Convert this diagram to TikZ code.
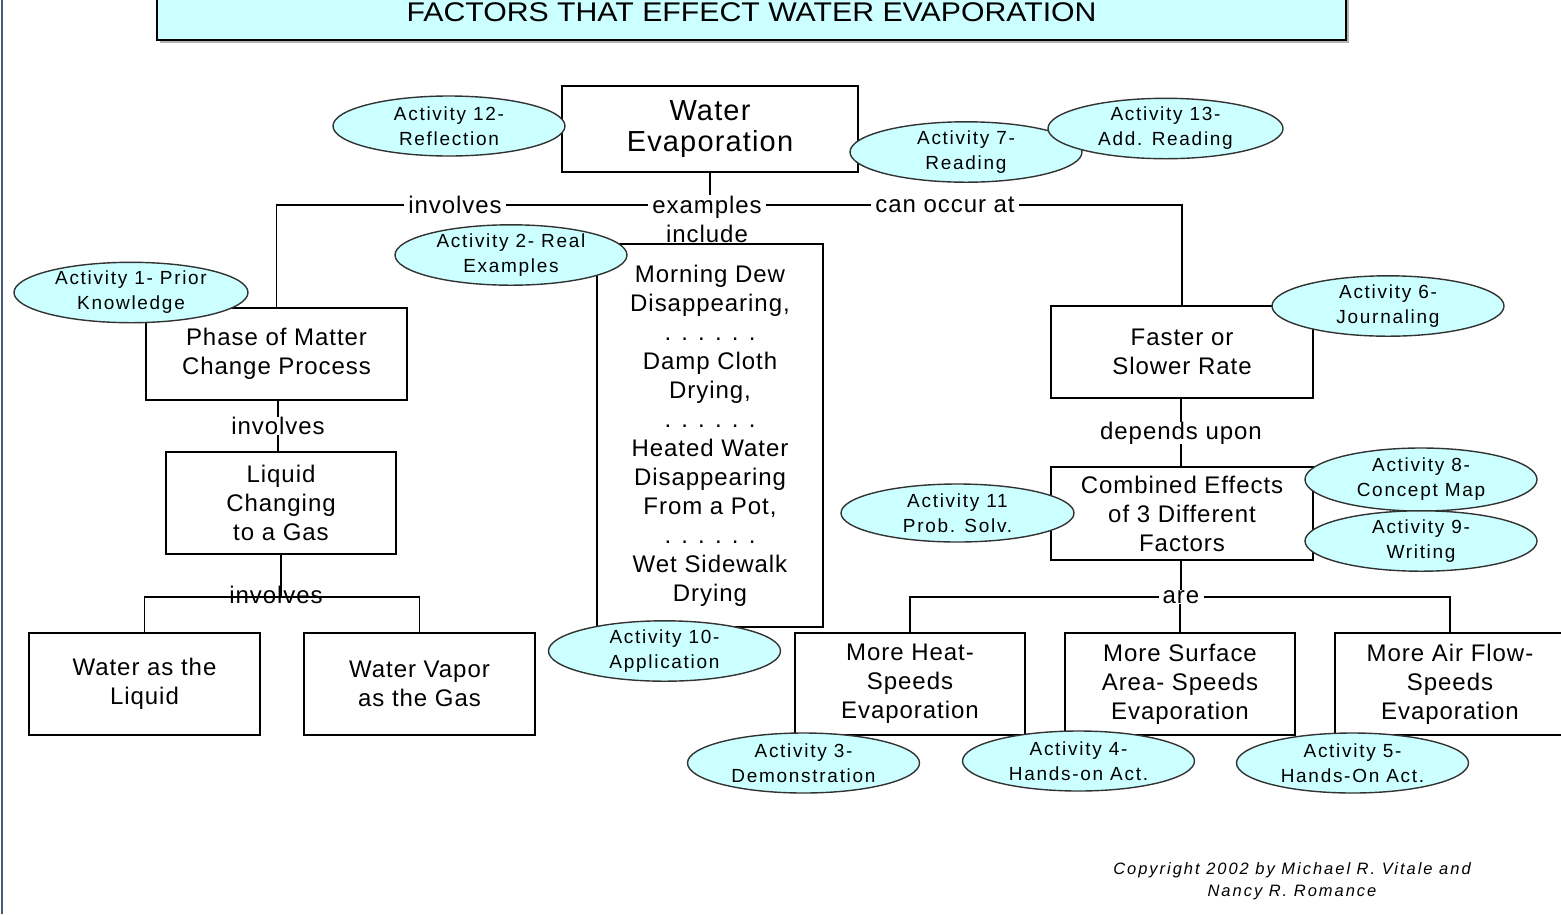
\documentclass[tikz,border=0pt]{standalone}
\usepackage{fontspec}
\setmainfont{Liberation Sans}
\newfontfamily\bxf[LetterSpace=4]{Liberation Sans}
\newfontfamily\acf[LetterSpace=9]{Liberation Sans}
\newfontfamily\cpf[LetterSpace=12]{Liberation Sans}
\newfontfamily\ttlf[FakeStretch=1.12]{Liberation Sans}
\usetikzlibrary{shapes.geometric}
\definecolor{actfill}{HTML}{CCFFFF}
\definecolor{edgeblue}{HTML}{4A5878}
\begin{document}
\begin{tikzpicture}[x=1pt,y=-1pt,
 concept/.style={draw=black, line width=1.5pt, fill=white, align=center, inner sep=0pt, font=\bxf\fontsize{24}{29}\selectfont},
 act/.style={ellipse, draw=black!80, line width=1.4pt, fill=actfill, minimum width=232pt, minimum height=60pt, inner sep=0pt, align=center, font=\acf\fontsize{19}{25}\selectfont},
 lbl/.style={fill=white, inner xsep=4pt, inner ysep=0pt, align=center, font=\bxf\fontsize{24}{29}\selectfont},
 conn/.style={line width=1.5pt, black},
]
\useasboundingbox (0,0) rectangle (1561,914);
\clip (0,0) rectangle (1561,914);
\fill[white] (0,0) rectangle (1561,914);
\draw[edgeblue, line width=2.5pt] (2,0) -- (2,914);
% title
\fill[gray!60] (160,-20) rectangle (1349,43);
\node[draw=black, line width=1.5pt, fill=actfill, minimum width=1189pt, minimum height=60pt, inner sep=0pt] (title) at (751.5,10) {};
\node[anchor=base, font=\ttlf\fontsize{27}{27}\selectfont] (titletext) at (751.5,21) {FACTORS THAT EFFECT WATER EVAPORATION};
% concepts
\node[concept, minimum width=296pt, minimum height=86pt, font=\bxf\fontsize{29}{31}\selectfont] (WE) at (710,129) {Water\\Evaporation};
\node[concept, minimum width=226pt, minimum height=383pt] (ex) at (710,435.5) {Morning Dew\\Disappearing,\\. . . . . .\\Damp Cloth\\Drying,\\. . . . . .\\Heated Water\\Disappearing\\From a Pot,\\. . . . . .\\Wet Sidewalk\\Drying};
\node[concept, minimum width=261pt, minimum height=92pt] (Phase) at (276.5,354) {Phase of Matter\\Change Process};
\node[concept, minimum width=230pt, minimum height=102pt] (Liq) at (281,503) {Liquid\\Changing\\to a Gas};
\node[concept, minimum width=231pt, minimum height=102pt] (WL) at (144.5,684) {Water as the\\Liquid};
\node[concept, minimum width=231pt, minimum height=102pt] (WV) at (419.5,684) {Water Vapor\\as the Gas};
\node[concept, minimum width=262pt, minimum height=92pt] (FS) at (1182,352) {Faster or\\Slower Rate};
\node[concept, minimum width=262pt, minimum height=93pt] (CE) at (1182,513.5) {Combined Effects\\of 3 Different\\Factors};
\node[concept, minimum width=230pt, minimum height=102pt] (MH) at (910,684) {More Heat-\\Speeds\\Evaporation};
\node[concept, minimum width=230pt, minimum height=102pt] (MS) at (1180,684) {More Surface\\Area- Speeds\\Evaporation};
\node[concept, minimum width=230pt, minimum height=102pt] (MA) at (1450,684) {More Air Flow-\\Speeds\\Evaporation};
% linking labels
\node[lbl] (inv1) at (455,205) {involves};
\node[lbl] (exl) at (707,219) {examples\\include};
\node[lbl] (can) at (945,205) {can occur at};
\node[lbl] (inv2) at (278,426) {involves};
\node[lbl] (dep) at (1181,433) {depends upon};
\node[lbl] (are) at (1181,597) {are};
% connectors
\draw[conn] (WE.south) -- (WE.south |- exl.north);
\draw[conn] (inv1.west) -| (Phase.north);
\draw[conn] (inv1.east) -- (inv1.east -| exl.west);
\draw[conn] (exl.east |- can.west) -- (can.west);
\draw[conn] (can.east) -| (FS.north);
\draw[conn] (inv2.north |- Phase.south) -- (inv2.north);
\draw[conn] (inv2.south) -- (inv2.south |- Liq.north);
\coordinate (inv3pt) at (Liq.south |- 0,597);
\draw[conn] (Liq.south) -- (inv3pt);
\draw[conn] (WL.north) |- (inv3pt) -| (WV.north);
\node[inner sep=0pt, font=\bxf\fontsize{24}{29}\selectfont] (inv3) at (276,595) {involves};
\draw[conn] (dep.north |- FS.south) -- (dep.north);
\draw[conn] (dep.south) -- (dep.south |- CE.north);
\draw[conn] (are.north |- CE.south) -- (are.north);
\draw[conn] (MH.north) |- (are.west);
\draw[conn] (are.east) -| (MA.north);
\draw[conn] (MS.north |- are.south) -- (MS.north);
% activities
\node[act] (a12) at (449,126) {Activity 12-\\Reflection};
\node[act] (a7) at (966,152) {Activity 7-\\Reading};
\node[act, minimum width=235pt] (a13) at (1165.5,128.5) {Activity 13-\\Add. Reading};
\node[act] (a2) at (511,255) {Activity 2- Real\\Examples};
\node[act, minimum width=234pt, minimum height=57pt] (a1) at (131,292.5) {Activity 1- Prior\\Knowledge};
\node[act] (a10) at (664.5,651) {Activity 10-\\Application};
\node[act] (a6) at (1388,306) {Activity 6-\\Journaling};
\node[act, minimum height=63pt] (a8) at (1421,479.5) {Activity 8-\\Concept Map};
\node[act] (a9) at (1421,541) {Activity 9-\\Writing};
\node[act, minimum width=233pt, minimum height=58pt] (a11) at (957.5,513) {Activity 11\\Prob. Solv.};
\node[act] (a3) at (803.5,763) {Activity 3-\\Demonstration};
\node[act] (a4) at (1078.5,761) {Activity 4-\\Hands-on Act.};
\node[act] (a5) at (1352.5,763) {Activity 5-\\Hands-On Act.};
% copyright
\node[font=\cpf\itshape\fontsize{16.5}{22}\selectfont, align=center] (copy) at (1292,881) {Copyright 2002 by Michael R. Vitale and\\Nancy R. Romance};
\end{tikzpicture}
\end{document}
